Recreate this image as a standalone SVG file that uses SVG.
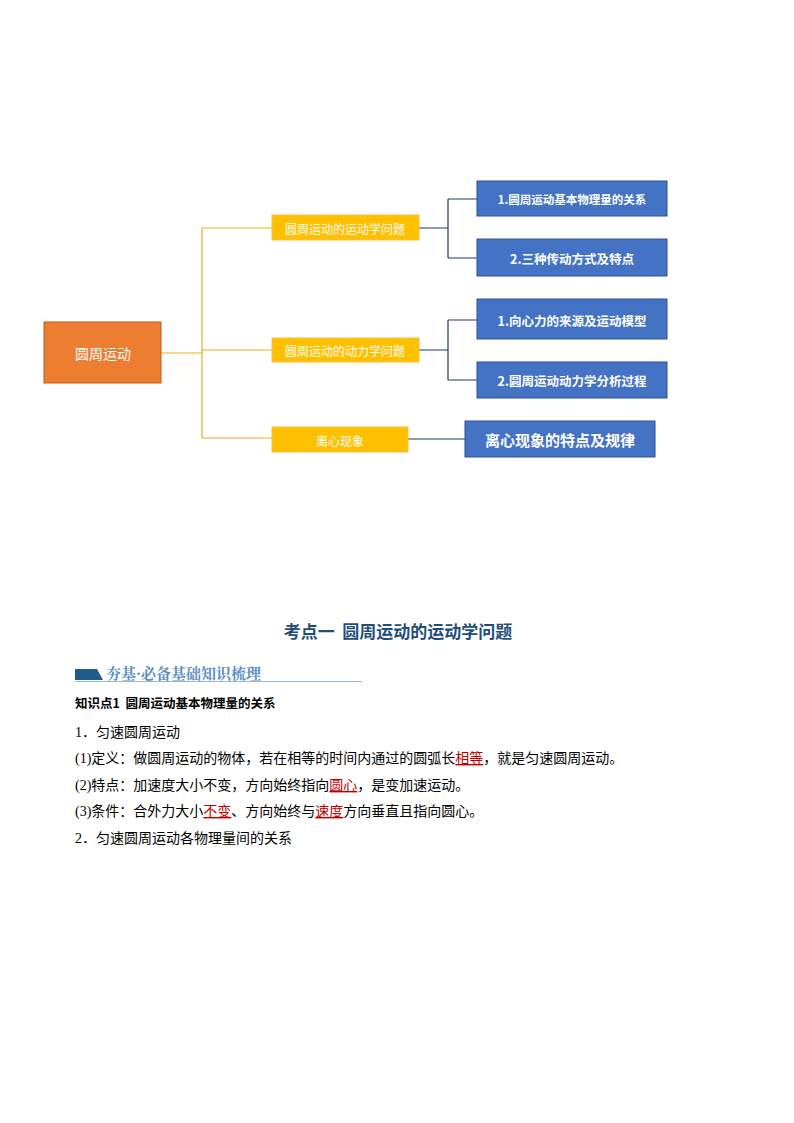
<svg xmlns="http://www.w3.org/2000/svg" width="794" height="1123" viewBox="0 0 794 1123">
<style>
.y{fill:#ffc000;stroke:#f5c04a;stroke-width:1}
.b{fill:#4472c4;stroke:#2f528f;stroke-width:1}
.t{font-family:"Noto Sans CJK SC",sans-serif;fill:#fff;text-anchor:middle;dominant-baseline:central}
.c1{stroke:#e6b020;fill:none;stroke-width:1.2}
.c2{stroke:#1f3864;fill:none;stroke-width:1.2}
.p{font-family:"Liberation Serif","Noto Sans CJK SC",serif;font-size:14px;fill:#000}
.r{fill:#c00000;text-decoration:underline}
</style>
<rect width="794" height="1123" fill="#fff"/>
<g id="connectors">
<path class="c1" d="M161 353H202M202 228V438M202 228H272M202 350H272M202 438H272"/>
<path class="c2" d="M419 228H448M448 199V258M448 199H477M448 258H477M419 350H448M448 320V380M448 320H477M448 380H477M408 439H465"/>
</g>
<g id="root"><rect x="44" y="322" width="117" height="61" fill="#ed7d31" stroke="#c55a11"/><text class="t" x="103" y="353" font-size="14">圆周运动</text></g>
<g id="y1"><rect class="y" x="272" y="215" width="147" height="25"/><text class="t" x="345" y="228" font-size="12">圆周运动的运动学问题</text></g>
<g id="y2"><rect class="y" x="272" y="338" width="147" height="24"/><text class="t" x="345" y="350" font-size="12">圆周运动的动力学问题</text></g>
<g id="y3"><rect class="y" x="272" y="427" width="136" height="25"/><text class="t" x="340" y="440" font-size="12">离心现象</text></g>
<g id="b1"><rect class="b" x="477" y="181" width="190" height="35"/><text class="t" x="572" y="199" font-size="11.5" font-weight="bold">1.圆周运动基本物理量的关系</text></g>
<g id="b2"><rect class="b" x="477" y="239" width="190" height="37"/><text class="t" x="572" y="258" font-size="12.5" font-weight="bold">2.三种传动方式及特点</text></g>
<g id="b3"><rect class="b" x="477" y="299" width="190" height="40"/><text class="t" x="572" y="320" font-size="12.5" font-weight="bold">1.向心力的来源及运动模型</text></g>
<g id="b4"><rect class="b" x="477" y="362" width="190" height="36"/><text class="t" x="572" y="380" font-size="12.5" font-weight="bold">2.圆周运动动力学分析过程</text></g>
<g id="b5"><rect class="b" x="465" y="421" width="190" height="36"/><text class="t" x="560" y="439" font-size="15" font-weight="bold">离心现象的特点及规律</text></g>
<text x="398" y="638" text-anchor="middle" xml:space="preserve" font-family="Noto Sans CJK SC,sans-serif" font-weight="bold" font-size="17" fill="#1f4e79">考点一  圆周运动的运动学问题</text>
<path d="M75 669H97L103 680H75Z" fill="#1f5c8b"/>
<line x1="75" y1="681.5" x2="362" y2="681.5" stroke="#9db7d5"/>
<text x="106" y="679" font-family="Noto Serif CJK SC,Noto Sans CJK SC,serif" font-weight="bold" font-size="15" fill="#5b8fc0">夯基·必备基础知识梳理</text>
<text x="75" y="708" xml:space="preserve" font-family="Noto Sans CJK SC,sans-serif" font-weight="bold" font-size="12.5">知识点1  圆周运动基本物理量的关系</text>
<text class="p" x="75" y="737">1．匀速圆周运动</text>
<text class="p" x="75" y="763">(1)定义：做圆周运动的物体，若在相等的时间内通过的圆弧长<tspan class="r">相等</tspan>，就是匀速圆周运动。</text>
<text class="p" x="75" y="790">(2)特点：加速度大小不变，方向始终指向<tspan class="r">圆心</tspan>，是变加速运动。</text>
<text class="p" x="75" y="816">(3)条件：合外力大小<tspan class="r">不变</tspan>、方向始终与<tspan class="r">速度</tspan>方向垂直且指向圆心。</text>
<text class="p" x="75" y="843">2．匀速圆周运动各物理量间的关系</text>
</svg>
